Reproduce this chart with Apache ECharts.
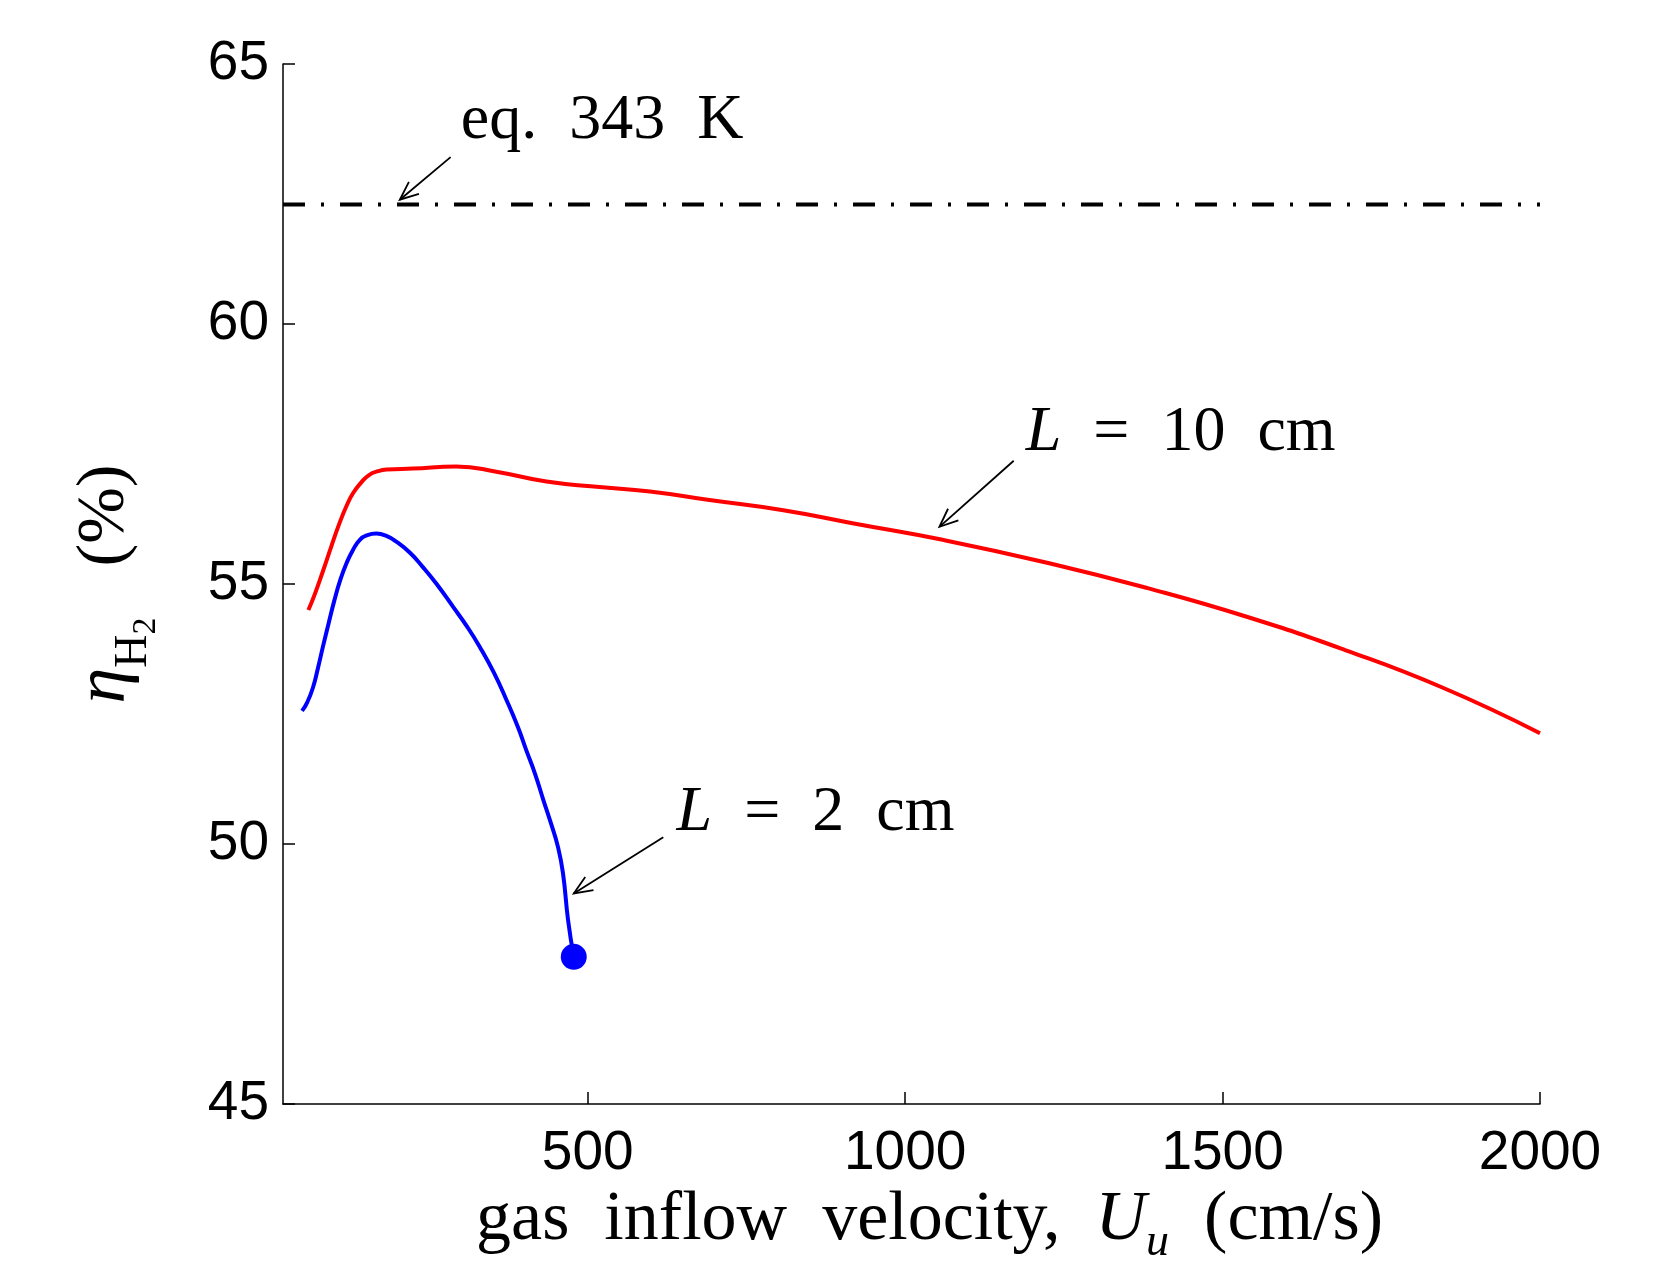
<!DOCTYPE html>
<html>
<head>
<meta charset="utf-8">
<script src="https://cdn.jsdelivr.net/npm/echarts@6/dist/echarts.min.js"></script>
<style>
  html, body { margin: 0; padding: 0; background: #fff; }
  #chart { width: 1673px; height: 1261px; }
</style>
</head>
<body>
<div id="chart"></div>
<script>
// L = 10 cm (red)
const redU = [60, 70, 83, 96, 109, 120, 130, 143, 156, 170, 183, 225, 293, 356, 435, 514, 598, 689, 808, 917, 1059, 1227, 1382, 1538, 1693, 1848, 2000];
const redEta = [54.5, 54.8, 55.25, 55.72, 56.17, 56.5, 56.74, 56.95, 57.1, 57.17, 57.2, 57.22, 57.26, 57.16, 56.97, 56.87, 56.78, 56.62, 56.42, 56.17, 55.85, 55.4, 54.92, 54.37, 53.73, 53.0, 52.13];

// L = 2 cm (blue), ends in a dot
const blueU = [50, 58, 67, 75, 83, 92, 101, 110, 120, 130, 141, 153, 167, 182, 199, 220, 240, 262, 288, 310, 330, 352, 372, 390, 403, 417, 430, 442, 453, 461, 469, 478];
const blueEta = [52.56, 52.72, 53.0, 53.38, 53.8, 54.25, 54.69, 55.07, 55.4, 55.65, 55.85, 55.94, 55.97, 55.93, 55.81, 55.6, 55.33, 55.0, 54.56, 54.18, 53.79, 53.3, 52.77, 52.25, 51.81, 51.35, 50.85, 50.4, 49.95, 49.44, 48.54, 47.83];

// equilibrium level at 343 K
const eqEta = 62.3;
const xRange = [20, 2000];
const xTicks = [500, 1000, 1500, 2000];

// text + arrow annotations in data coordinates
const notes = [
  { text: 'eq.  343  K', at: [300, 63.9], from: [284, 63.21], to: [204, 62.39] },
  { text: '{i|L}  =  10  cm', at: [1190, 57.9], from: [1171, 57.37], to: [1054, 56.1] },
  { text: '{i|L}  =  2  cm', at: [640, 50.6], from: [619, 50.13], to: [478, 49.05] }
];

const serif = 'Liberation Serif';
const pair = (xs, ys) => xs.map((x, i) => [x, ys[i]]);

const chart = echarts.init(document.getElementById('chart'), null, { renderer: 'canvas' });

const axisLine = { show: true, lineStyle: { color: '#000', width: 1.5 } };

chart.setOption({
  animation: false,
  backgroundColor: '#fff',
  grid: { left: 283, right: 133, top: 64, bottom: 157, outerBoundsMode: 'none', containLabel: false },
  xAxis: {
    type: 'value',
    min: xRange[0],
    max: xRange[1],
    axisLine,
    axisTick: { show: true, inside: true, length: 12, customValues: xTicks, lineStyle: { color: '#000', width: 1.5 } },
    axisLabel: {
      customValues: xTicks,
      formatter: (v) => String(v),
      margin: 22, fontFamily: 'Liberation Sans', fontSize: 55, color: '#000'
    },
    splitLine: { show: false },
    name: '{t|gas  inflow  velocity,  }{i|U}{u|u}{t|  (cm/s)}',
    nameLocation: 'middle',
    nameGap: 82,
    nameTextStyle: {
      padding: [0, 0, 0, 36],
      rich: {
        t: { fontFamily: serif, fontSize: 70, color: '#000' },
        i: { fontFamily: serif, fontStyle: 'italic', fontSize: 70, color: '#000' },
        u: { fontFamily: serif, fontStyle: 'italic', fontSize: 46, color: '#000', verticalAlign: 'bottom', padding: [0, 0, -10, 0] }
      }
    }
  },
  yAxis: {
    type: 'value',
    min: 45,
    max: 65,
    interval: 5,
    axisLine,
    axisTick: { show: true, inside: true, length: 12, lineStyle: { color: '#000', width: 1.5 } },
    axisLabel: { margin: 14, fontFamily: 'Liberation Sans', fontSize: 55, color: '#000' },
    splitLine: { show: false },
    name: '{e|η}{h|H}{s|2}{t|   (%)}',
    nameLocation: 'middle',
    nameRotate: 90,
    nameGap: 142,
    nameTextStyle: {
      rich: {
        e: { fontFamily: serif, fontStyle: 'italic', fontSize: 72, color: '#000' },
        h: { fontFamily: serif, fontSize: 46, color: '#000', verticalAlign: 'bottom', padding: [0, 0, -16, 0] },
        s: { fontFamily: serif, fontSize: 34, color: '#000', verticalAlign: 'bottom', padding: [0, 0, -22, 0] },
        t: { fontFamily: serif, fontSize: 68, color: '#000' }
      }
    }
  },
  series: [
    {
      name: 'eq. 343 K',
      type: 'line',
      data: [[xRange[0], eqEta], [xRange[1], eqEta]],
      showSymbol: false,
      lineStyle: { color: '#000', width: 4, type: [22, 16, 3, 16] }
    },
    {
      name: 'L = 10 cm',
      type: 'line',
      data: pair(redU, redEta),
      showSymbol: false,
      smooth: 0.5,
      lineStyle: { color: '#ff0000', width: 4 }
    },
    {
      name: 'L = 2 cm',
      type: 'line',
      data: pair(blueU, blueEta),
      showSymbol: false,
      smooth: 0.5,
      lineStyle: { color: '#0000ff', width: 4 }
    },
    {
      name: 'L = 2 cm end',
      type: 'scatter',
      data: [[blueU[blueU.length - 1], blueEta[blueEta.length - 1]]],
      symbol: 'circle',
      symbolSize: 26,
      itemStyle: { color: '#0000ff', opacity: 1 }
    }
  ]
});

// annotations: positions come from the chart's own scales
const px = (p) => chart.convertToPixel({ gridIndex: 0 }, p);
const graphics = [];
notes.forEach((n) => {
  const a = px(n.from), b = px(n.to), t = px(n.at);
  const ang = Math.atan2(a[1] - b[1], a[0] - b[0]);
  const len = 20, spread = 0.4;
  graphics.push({
    type: 'polyline',
    shape: { points: [a, b] },
    style: { stroke: '#000', lineWidth: 1.8, fill: null },
    silent: true
  });
  graphics.push({
    type: 'polyline',
    shape: {
      points: [
        [b[0] + len * Math.cos(ang + spread), b[1] + len * Math.sin(ang + spread)],
        b,
        [b[0] + len * Math.cos(ang - spread), b[1] + len * Math.sin(ang - spread)]
      ]
    },
    style: { stroke: '#000', lineWidth: 1.8, fill: null },
    silent: true
  });
  graphics.push({
    type: 'text',
    x: t[0],
    y: t[1],
    style: {
      text: n.text,
      fontFamily: serif,
      fontSize: 64,
      fill: '#000',
      verticalAlign: 'middle',
      align: 'left',
      rich: { i: { fontFamily: serif, fontStyle: 'italic', fontSize: 64, fill: '#000' } }
    },
    silent: true
  });
});
chart.setOption({ graphic: graphics });
</script>
</body>
</html>
